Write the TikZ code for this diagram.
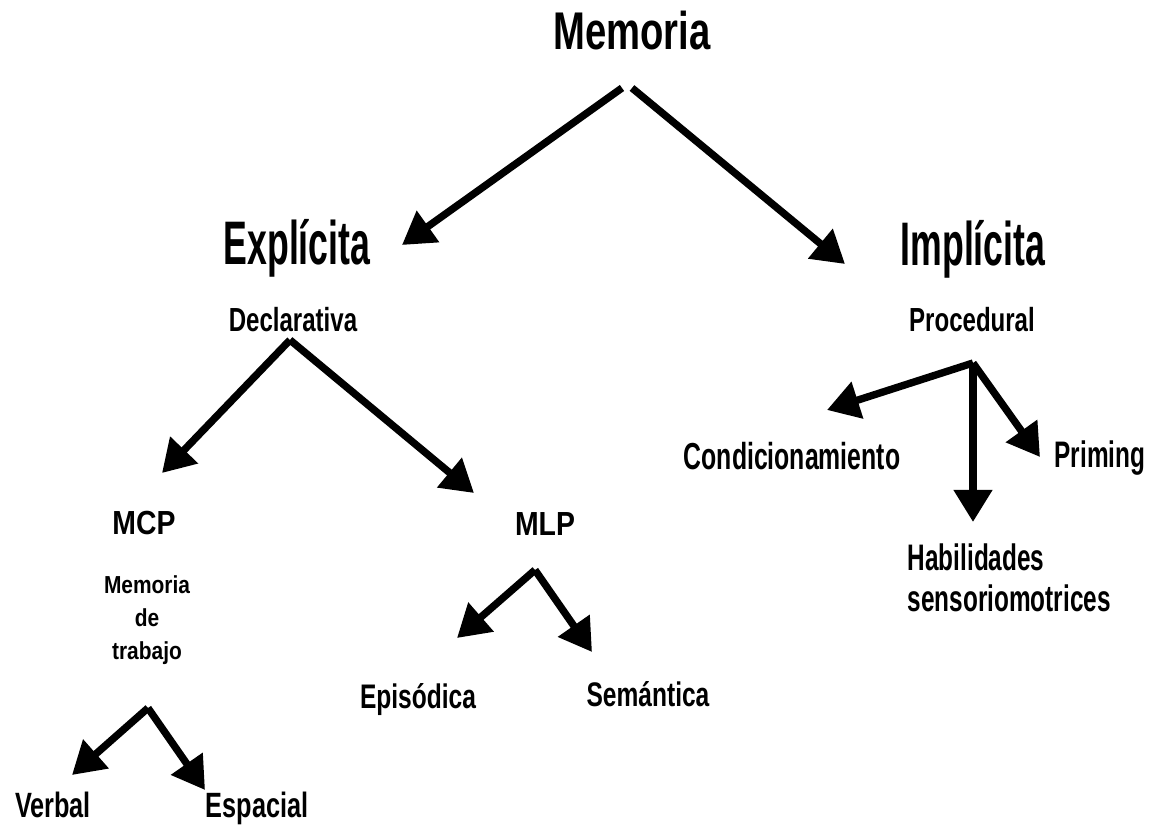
\documentclass[tikz,border=0pt]{standalone}
\usepackage{fontspec}
\setmainfont{Liberation Sans}
\newfontfamily\lblnarrow{Liberation Sans}[FakeStretch=0.58]
\newfontfamily\lblleaf{Liberation Sans}[FakeStretch=0.66]
\newfontfamily\lblcond{Liberation Sans}[FakeStretch=0.72]
\newfontfamily\lblwide{Liberation Sans}[FakeStretch=0.85]
\usetikzlibrary{arrows.meta}
\tikzset{
  lbl/.style={inner sep=0pt, anchor=base},
  arr/.style={-{Triangle[length=3.2mm,width=3.7mm]}, line width=2.1pt},
}

\begin{document}
\begin{tikzpicture}
  \useasboundingbox (0,0) rectangle (11.54,8.28);
  % top
  \node[lbl, font=\lblcond\bfseries\fontsize{15.1}{18}\selectfont] (memoria) at (6.32,7.78) {Memoria};
  \coordinate (memoria-l) at (6.22,7.40);
  \coordinate (memoria-r) at (6.32,7.40);
  % first level
  \node[lbl, font=\lblnarrow\bfseries\fontsize{17.5}{21}\selectfont] (explicita) at (2.97,5.63) {Explícita};
  \node[lbl, font=\lblnarrow\bfseries\fontsize{17.5}{21}\selectfont] (implicita) at (9.73,5.62) {Implícita};
  \coordinate (explicita-in) at (4.02,5.83);
  \coordinate (implicita-in) at (8.45,5.64);
  \draw[arr] (memoria-l) -- (explicita-in);
  \draw[arr] (memoria-r) -- (implicita-in);
  \node[lbl, font=\lblcond\bfseries\fontsize{9.5}{11}\selectfont] (declarativa) at (2.93,4.96) {Declarativa};
  \node[lbl, font=\lblcond\bfseries\fontsize{9.5}{11}\selectfont] (procedural) at (9.72,4.96) {Procedural};
  % explicit branch
  \coordinate (declarativa-fork) at (2.90,4.88);
  \node[lbl, font=\lblwide\bfseries\fontsize{9.5}{11}\selectfont] (mcp) at (1.44,2.93) {MCP};
  \node[lbl, font=\lblwide\bfseries\fontsize{9.5}{11}\selectfont] (mlp) at (5.45,2.92) {MLP};
  \coordinate (mcp-in) at (1.62,3.55);
  \coordinate (mlp-in) at (4.74,3.35);
  \draw[arr] (declarativa-fork) -- (mcp-in);
  \draw[arr] (declarativa-fork) -- (mlp-in);
  \node[inner sep=0pt, anchor=north, align=center, font=\lblwide\bfseries\fontsize{7}{9.4}\selectfont] (trabajo) at (1.47,2.53) {Memoria\\de\\trabajo};
  \coordinate (mcp-fork) at (1.48,1.20);
  \node[lbl, font=\lblcond\bfseries\fontsize{10}{12}\selectfont] (verbal) at (0.53,0.10) {Verbal};
  \node[lbl, font=\lblcond\bfseries\fontsize{10}{12}\selectfont] (espacial) at (2.57,0.11) {Espacial};
  \coordinate (verbal-in) at (0.72,0.53);
  \coordinate (espacial-in) at (2.05,0.38);
  \draw[arr] (mcp-fork) -- (verbal-in);
  \draw[arr] (mcp-fork) -- (espacial-in);
  \coordinate (mlp-fork) at (5.35,2.58);
  \node[lbl, font=\lblcond\bfseries\fontsize{9.7}{12}\selectfont] (episodica) at (4.18,1.19) {Episódica};
  \node[lbl, font=\lblcond\bfseries\fontsize{9.7}{12}\selectfont] (semantica) at (6.48,1.21) {Semántica};
  \coordinate (episodica-in) at (4.57,1.90);
  \coordinate (semantica-in) at (5.92,1.76);
  \draw[arr] (mlp-fork) -- (episodica-in);
  \draw[arr] (mlp-fork) -- (semantica-in);
  % implicit branch
  \coordinate (procedural-fork) at (9.73,4.65);
  \node[lbl, font=\lblleaf\bfseries\fontsize{10.7}{13}\selectfont] (condicionamiento) at (7.92,3.58) {Condicionamiento};
  \node[lbl, font=\lblleaf\bfseries\fontsize{10.5}{13}\selectfont] (priming) at (11.00,3.60) {Priming};
  \node[inner sep=0pt, anchor=north west, align=left, font=\lblleaf\bfseries\fontsize{10.5}{11.7}\selectfont] (habilidades) at (9.07,2.85) {Habilidades\\sensoriomotrices};
  \coordinate (condicionamiento-in) at (8.27,4.18);
  \coordinate (habilidades-in) at (9.73,3.06);
  \coordinate (priming-in) at (10.40,3.71);
  \draw[arr] (procedural-fork) -- (condicionamiento-in);
  \draw[arr] (procedural-fork) -- (habilidades-in);
  \draw[arr] (procedural-fork) -- (priming-in);
\end{tikzpicture}
\end{document}
